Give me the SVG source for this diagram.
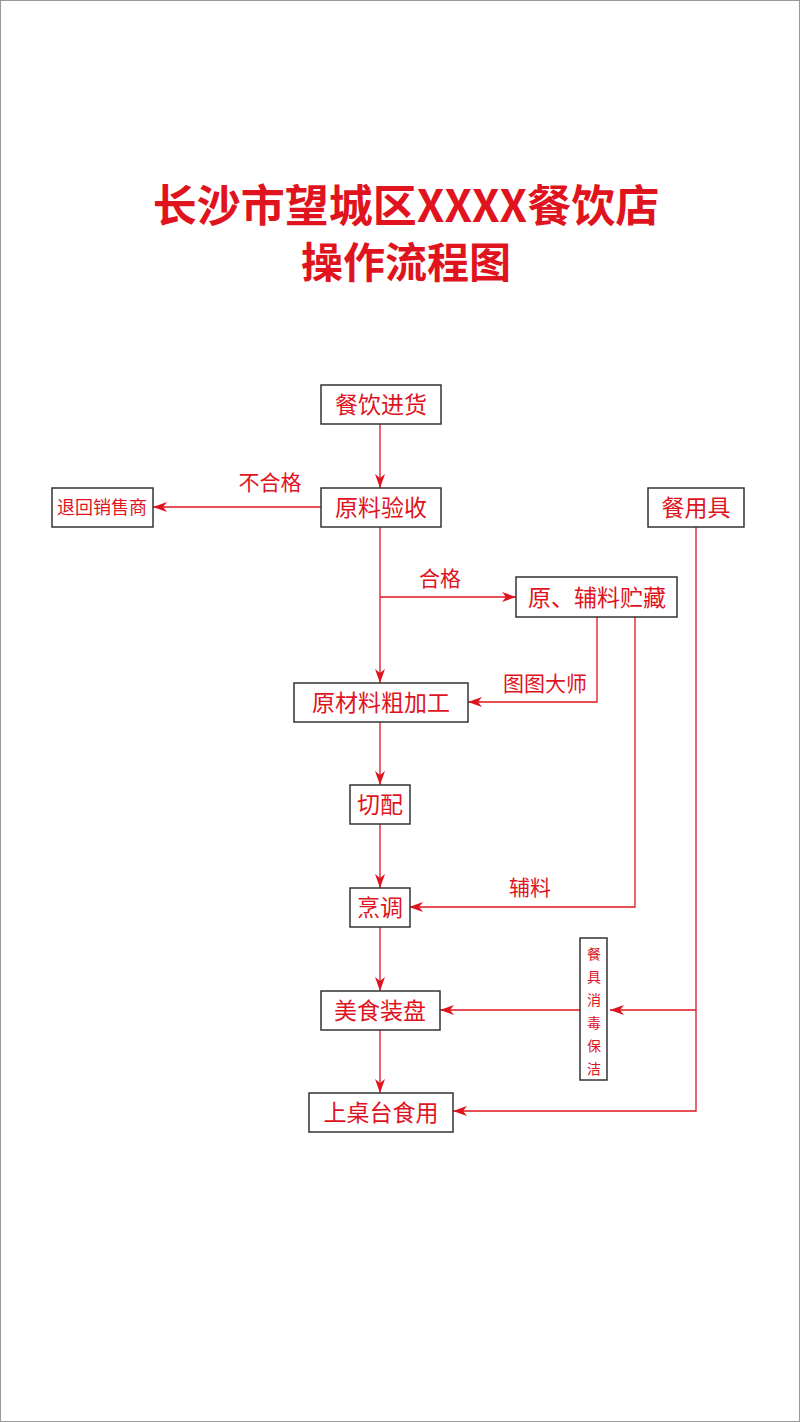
<svg xmlns="http://www.w3.org/2000/svg" width="800" height="1422" viewBox="0 0 800 1422">
<style>
.b{fill:#fff;stroke:#333;stroke-width:1.5}
.t{font-family:"Noto Sans CJK SC",sans-serif;fill:#e0141e;font-size:23px;text-anchor:middle}
.l{font-family:"Noto Sans CJK SC",sans-serif;fill:#e0141e;font-size:21px;text-anchor:middle}
.v{font-family:"Noto Sans CJK SC",sans-serif;fill:#e0141e;font-size:14px;text-anchor:middle}
.c{stroke:#e0141e;stroke-width:1.3;fill:none}
</style>
<defs><marker id="a" viewBox="0 0 14 10" refX="14" refY="5" markerWidth="14" markerHeight="10" markerUnits="userSpaceOnUse" orient="auto"><path d="M0,0L14,5L0,10L4,5Z" fill="#e0141e"/></marker></defs>
<rect x="0.5" y="0.5" width="799" height="1421" fill="#fff" stroke="#999"/>
<text x="406" y="222" font-family="Noto Sans CJK SC,sans-serif" font-weight="bold" font-size="44" fill="#e0141e" text-anchor="middle">长沙市望城区XXXX餐饮店</text>
<text x="406" y="278" font-family="Noto Sans CJK SC,sans-serif" font-weight="bold" font-size="42" fill="#e0141e" text-anchor="middle">操作流程图</text>
<g id="connectors">
<path class="c" marker-end="url(#a)" d="M380,424V488"/>
<path class="c" marker-end="url(#a)" d="M321,507H153"/>
<path class="c" marker-end="url(#a)" d="M380,527V683"/>
<path class="c" marker-end="url(#a)" d="M380,597H516"/>
<path class="c" marker-end="url(#a)" d="M597,617V702H468"/>
<path class="c" marker-end="url(#a)" d="M635,617V907H409"/>
<path class="c" marker-end="url(#a)" d="M380,722V785"/>
<path class="c" marker-end="url(#a)" d="M380,824V888"/>
<path class="c" marker-end="url(#a)" d="M380,927V991"/>
<path class="c" marker-end="url(#a)" d="M380,1030V1093"/>
<path class="c" marker-end="url(#a)" d="M696,527V1111H453"/>
<path class="c" marker-end="url(#a)" d="M696,1010H610"/>
<path class="c" marker-end="url(#a)" d="M580,1010H440"/>
<text class="l" x="270" y="490">不合格</text>
<text class="l" x="440" y="586">合格</text>
<text class="l" x="545" y="691">图图大师</text>
<text class="l" x="530" y="895">辅料</text>
</g>
<g id="n1"><rect class="b" x="321" y="385" width="120" height="39"/><text class="t" x="381" y="413">餐饮进货</text></g>
<g id="n2"><rect class="b" x="321" y="488" width="120" height="39"/><text class="t" x="381" y="516">原料验收</text></g>
<g id="n3"><rect class="b" x="52" y="488" width="101" height="39"/><text class="t" style="font-size:18px" x="102" y="514">退回销售商</text></g>
<g id="n4"><rect class="b" x="648" y="488" width="96" height="39"/><text class="t" x="696" y="516">餐用具</text></g>
<g id="n5"><rect class="b" x="516" y="577" width="161" height="40"/><text class="t" x="597" y="606">原、辅料贮藏</text></g>
<g id="n6"><rect class="b" x="294" y="683" width="174" height="39"/><text class="t" x="381" y="711">原材料粗加工</text></g>
<g id="n7"><rect class="b" x="350" y="785" width="60" height="39"/><text class="t" x="380" y="813">切配</text></g>
<g id="n8"><rect class="b" x="350" y="888" width="60" height="39"/><text class="t" x="380" y="916">烹调</text></g>
<g id="n9"><rect class="b" x="321" y="991" width="119" height="39"/><text class="t" x="380" y="1019">美食装盘</text></g>
<g id="n10"><rect class="b" x="309" y="1093" width="144" height="39"/><text class="t" x="381" y="1121">上桌台食用</text></g>
<g id="n11"><rect class="b" x="580" y="938" width="27" height="142"/>
<text class="v" x="594" y="959">餐</text><text class="v" x="594" y="982">具</text><text class="v" x="594" y="1005">消</text><text class="v" x="594" y="1028">毒</text><text class="v" x="594" y="1051">保</text><text class="v" x="594" y="1074">洁</text></g>
</svg>
